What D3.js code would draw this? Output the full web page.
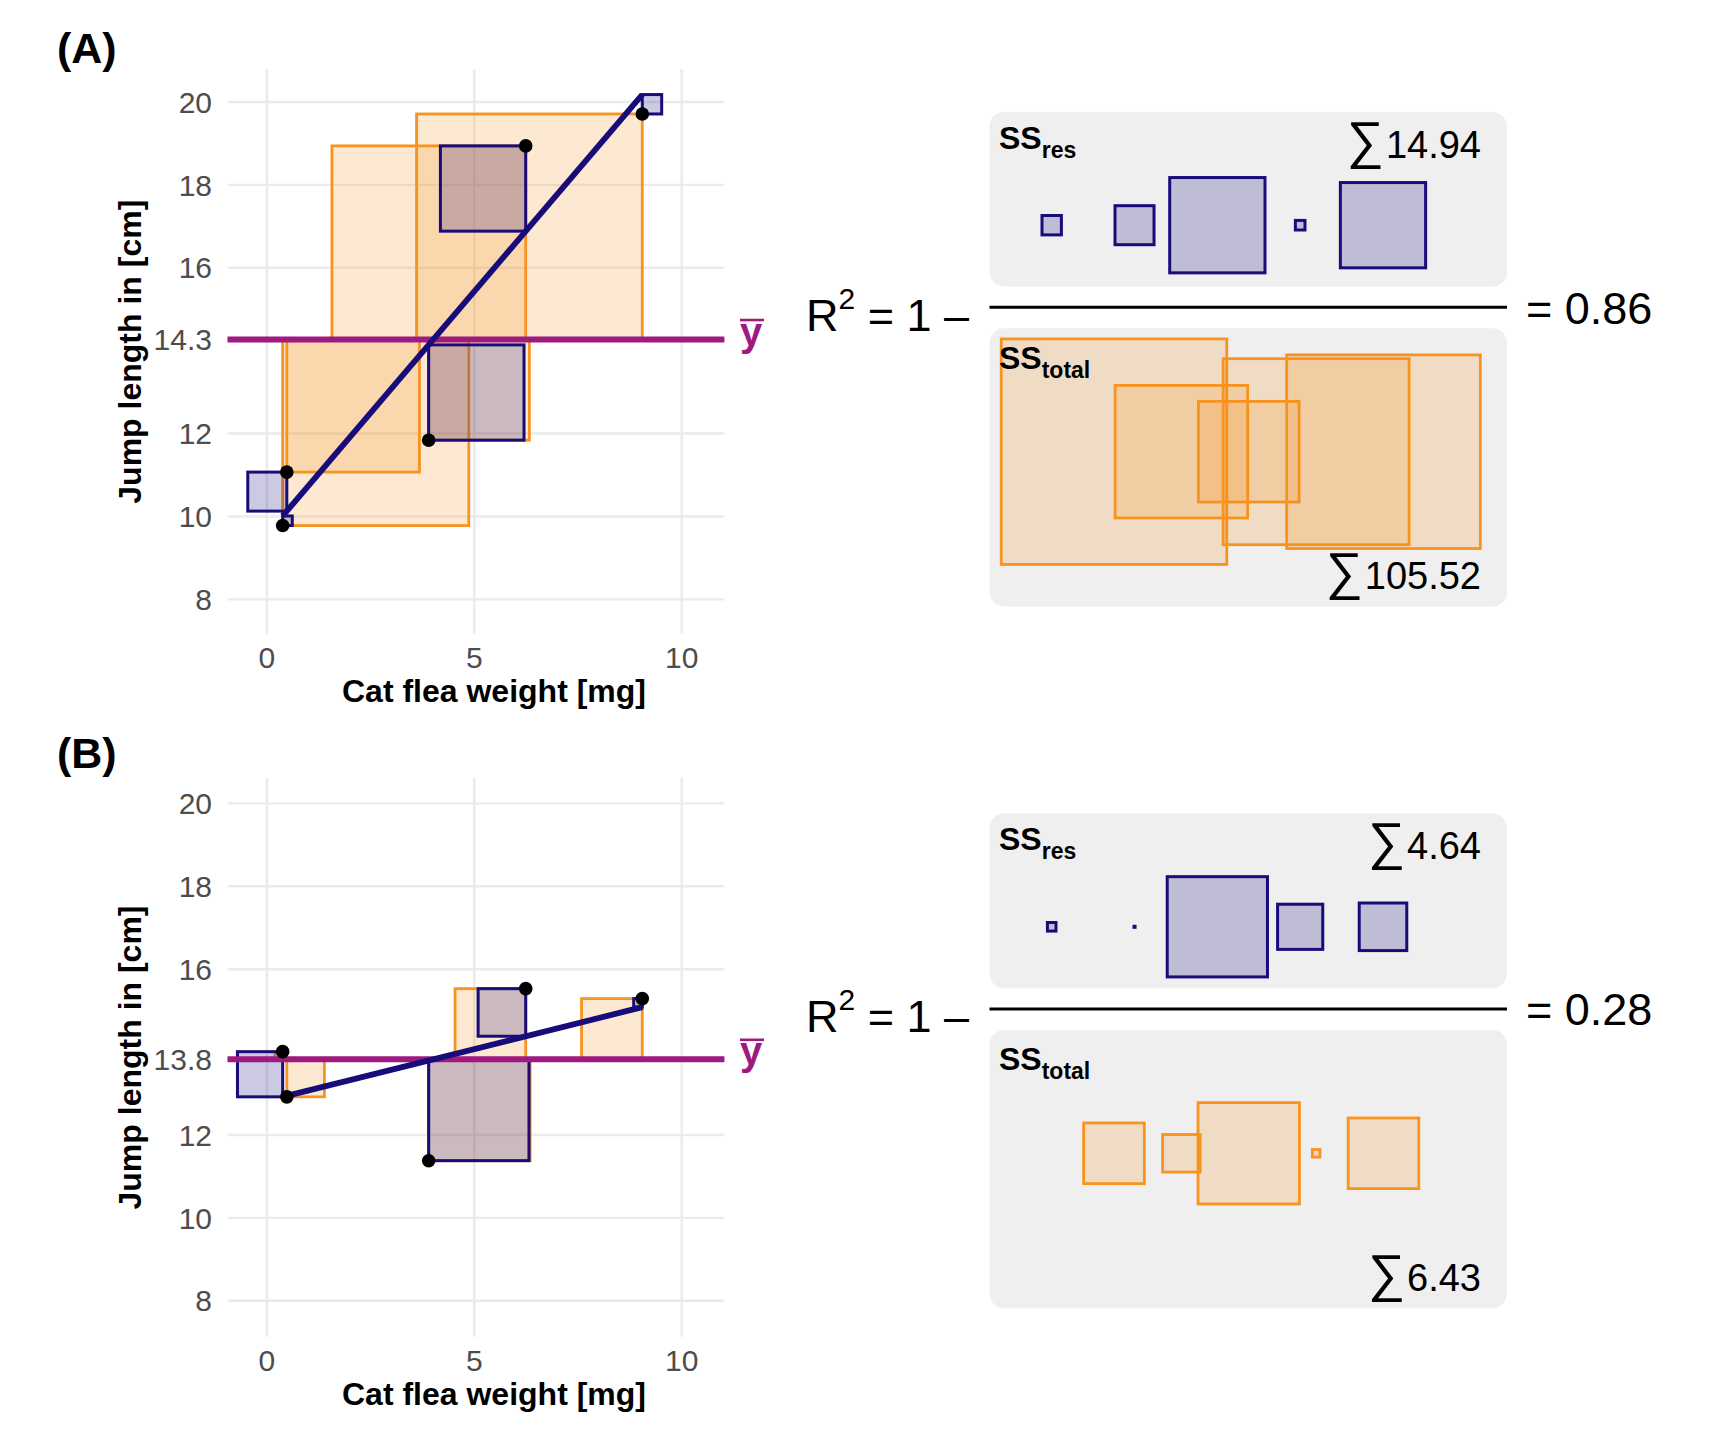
<!DOCTYPE html>
<html><head><meta charset="utf-8">
<script src="https://cdn.jsdelivr.net/npm/d3@7"></script>
<style>
body{margin:0;background:#fff}
svg{display:block}
text{font-family:"Liberation Sans",Arial,Helvetica,sans-serif}
</style>
</head><body>
<svg id="chart" width="1728" height="1440"></svg>
<script>
// ---------------- data ----------------
const panelLabels = ["(A)", "(B)"];
const fleaWeight = [9.05, 0.48, 3.90, 0.38, 6.24];          // mg
const jumpLengthA = [19.71, 11.07, 11.84, 9.78, 18.94];     // cm
const jumpLengthB = [15.29, 12.92, 11.38, 14.01, 15.53];    // cm
const xTicks = [0, 5, 10];
const yTicks = [8, 10, 12, 16, 18, 20];
const ssResLabels = ["14.94", "4.64"];
const ssTotalLabels = ["105.52", "6.43"];
const r2Labels = ["0.86", "0.28"];
const xTitle = "Cat flea weight [mg]";
const yTitle = "Jump length in [cm]";

// ---------------- style / layout ----------------
const COL = {orange:"#F7931E", navy:"#170C7A", purple:"#9E1A80", grid:"#EBEBEB",
             tick:"#4D4D4D", box:"#EFEFEF"};
const K = 41.45;                 // px per data unit (fixed aspect)
const plotL = 227.5, plotR = 724.4;
const xTitleX = 494;
const xDom = [-0.95, 11.03];
const layout = [
  {top:69.2,  yDom:[7.16, 20.79], labelY:63,  row:111.7},
  {top:778.1, yDom:[7.13, 20.61], labelY:768, row:813.3}
];
const boxX0 = 989.5, boxX1 = 1507;

const svg = d3.select("#chart");
const x = d3.scaleLinear().domain(xDom).range([plotL, plotR]);

function fit(xs, ys){
  const mx = d3.mean(xs), my = d3.mean(ys);
  let sxy = 0, sxx = 0;
  xs.forEach((v,i)=>{ sxy += (v-mx)*(ys[i]-my); sxx += (v-mx)*(v-mx); });
  const b = sxy/sxx, a = my - b*mx;
  return v => a + b*v;
}

function squareRect(xv, yv, ref){
  const side = Math.abs(yv - ref);
  const left = yv > ref ? xv - side : xv;
  return {x0:left, x1:left+side, y0:Math.min(yv,ref), y1:Math.max(yv,ref), side};
}

[jumpLengthA, jumpLengthB].forEach((ys, p) => {
  const L = layout[p];
  const bottom = L.top + (L.yDom[1]-L.yDom[0])*K;
  const y = d3.scaleLinear().domain(L.yDom).range([bottom, L.top]);
  const g = svg.append("g");
  const mean = d3.mean(ys);
  const pred = fit(fleaWeight, ys);
  const resid = ys.map((v,i)=>v - pred(fleaWeight[i]));
  const dev = ys.map(v=>v - mean);

  // grid
  const yt = yTicks.concat([mean]);
  g.selectAll(".hg").data(yt).join("line")
    .attr("x1", plotL).attr("x2", plotR)
    .attr("y1", d=>y(d)).attr("y2", d=>y(d))
    .attr("stroke", COL.grid).attr("stroke-width", 2.4);
  g.selectAll(".vg").data(xTicks).join("line")
    .attr("x1", d=>x(d)).attr("x2", d=>x(d))
    .attr("y1", L.top).attr("y2", bottom)
    .attr("stroke", COL.grid).attr("stroke-width", 2.4);

  // tick labels
  g.selectAll(".yl").data(yt).join("text")
    .attr("x", 212).attr("y", d=>y(d)+10.7).attr("text-anchor","end")
    .attr("font-size", 30).attr("fill", COL.tick)
    .text(d => yTicks.includes(d) ? d3.format("d")(d) : d3.format(".1f")(d));
  g.selectAll(".xl").data(xTicks).join("text")
    .attr("x", d=>x(d)).attr("y", bottom+34).attr("text-anchor","middle")
    .attr("font-size", 30).attr("fill", COL.tick).text(d=>d);

  // titles
  g.append("text").attr("x", xTitleX).attr("y", bottom+68)
    .attr("text-anchor","middle").attr("font-size", 32).attr("font-weight","bold")
    .text(xTitle);
  g.append("text").attr("transform", `translate(141,${(L.top+bottom)/2}) rotate(-90)`)
    .attr("text-anchor","middle").attr("font-size", 32).attr("font-weight","bold")
    .text(yTitle);
  g.append("text").attr("x", 57).attr("y", L.labelY)
    .attr("font-size", 43).attr("font-weight","bold").text(panelLabels[p]);

  // total squares (orange)
  const tot = ys.map((v,i)=>squareRect(fleaWeight[i], v, mean));
  g.selectAll(".tsq").data(tot).join("rect")
    .attr("x", d=>x(d.x0)).attr("width", d=>x(d.x1)-x(d.x0))
    .attr("y", d=>y(d.y1)).attr("height", d=>y(d.y0)-y(d.y1))
    .attr("fill", COL.orange).attr("fill-opacity", 0.2)
    .attr("stroke", COL.orange).attr("stroke-width", 2.8);
  // residual squares (navy)
  const res = ys.map((v,i)=>squareRect(fleaWeight[i], v, pred(fleaWeight[i])));
  g.selectAll(".rsq").data(res).join("rect")
    .attr("x", d=>x(d.x0)).attr("width", d=>x(d.x1)-x(d.x0))
    .attr("y", d=>y(d.y1)).attr("height", d=>y(d.y0)-y(d.y1))
    .attr("fill", COL.navy).attr("fill-opacity", 0.22)
    .attr("stroke", COL.navy).attr("stroke-width", 3);

  // mean line
  g.append("line").attr("x1", plotL).attr("x2", plotR)
    .attr("y1", y(mean)).attr("y2", y(mean))
    .attr("stroke", COL.purple).attr("stroke-width", 6);
  g.append("text").attr("x", 740).attr("y", y(mean)+6)
    .attr("font-size", 40).attr("font-weight","bold").attr("fill", COL.purple).text("y");
  g.append("line").attr("x1", 740).attr("x2", 764)
    .attr("y1", y(mean)-19.5).attr("y2", y(mean)-19.5)
    .attr("stroke", COL.purple).attr("stroke-width", 2.6);

  // regression line
  const [xmin, xmax] = d3.extent(fleaWeight);
  g.append("line").attr("x1", x(xmin)).attr("x2", x(xmax))
    .attr("y1", y(pred(xmin))).attr("y2", y(pred(xmax)))
    .attr("stroke", COL.navy).attr("stroke-width", 5.8);

  // points
  g.selectAll(".pt").data(ys).join("circle")
    .attr("cx", (d,i)=>x(fleaWeight[i])).attr("cy", d=>y(d)).attr("r", 6.8)
    .attr("fill", "#000");

  // ---------- right side: R^2 fraction ----------
  const row = L.row;
  const r = svg.append("g");
  r.append("rect").attr("x", boxX0).attr("y", row).attr("width", boxX1-boxX0).attr("height", 175)
    .attr("rx", 15).attr("fill", COL.box);
  r.append("rect").attr("x", boxX0).attr("y", row+216.6).attr("width", boxX1-boxX0).attr("height", 278.4)
    .attr("rx", 15).attr("fill", COL.box);
  r.append("line").attr("x1", boxX0).attr("x2", boxX1)
    .attr("y1", row+195.6).attr("y2", row+195.6).attr("stroke", "#000").attr("stroke-width", 3);

  const idx = d3.range(ys.length);
  const pRes = d3.scalePoint().domain(idx).range([1051.7, 1383]);
  const pTot = d3.scalePoint().domain(idx).range([1114, 1383.5]);
  const cyRes = row + 113.5, cyTot = row + 340;

  r.selectAll(".rt").data(dev).join("rect")
    .attr("x", (d,i)=>pTot(i) - Math.abs(d)*K/2).attr("y", d=>cyTot - Math.abs(d)*K/2)
    .attr("width", d=>Math.abs(d)*K).attr("height", d=>Math.abs(d)*K)
    .attr("fill", COL.orange).attr("fill-opacity", 0.2)
    .attr("stroke", COL.orange).attr("stroke-width", 2.8);
  r.selectAll(".rr").data(resid).join("rect")
    .attr("x", (d,i)=>pRes(i) - Math.abs(d)*K/2).attr("y", d=>cyRes - Math.abs(d)*K/2)
    .attr("width", d=>Math.abs(d)*K).attr("height", d=>Math.abs(d)*K)
    .attr("fill", COL.navy).attr("fill-opacity", 0.22)
    .attr("stroke", COL.navy).attr("stroke-width", 3);

  function ssLabel(yb, sub){
    const t = r.append("text").attr("x", 999).attr("y", yb).attr("font-weight","bold").attr("font-size", 32);
    t.append("tspan").text("SS");
    t.append("tspan").attr("font-size", 23).attr("dy", 9).text(sub);
  }
  ssLabel(row+37, "res");
  ssLabel(row+257, "total");

  function sumLabel(yb, val){
    const t = r.append("text").attr("x", 1481).attr("y", yb).attr("text-anchor","end");
    t.append("tspan").attr("font-size", 52).text("∑");
    t.append("tspan").attr("font-size", 38).attr("dx", 2).text(val);
  }
  sumLabel(row+46, ssResLabels[p]);
  sumLabel(row+477.6, ssTotalLabels[p]);

  const rt = r.append("text").attr("x", 806).attr("y", row+219).attr("font-size", 45);
  rt.append("tspan").text("R");
  rt.append("tspan").attr("font-size", 30).attr("dy", -22).text("2");
  rt.append("tspan").attr("dy", 22).text(" = 1 –");
  r.append("text").attr("x", 1526).attr("y", row+212).attr("font-size", 45).text("= " + r2Labels[p]);
});
</script>
</body></html>
